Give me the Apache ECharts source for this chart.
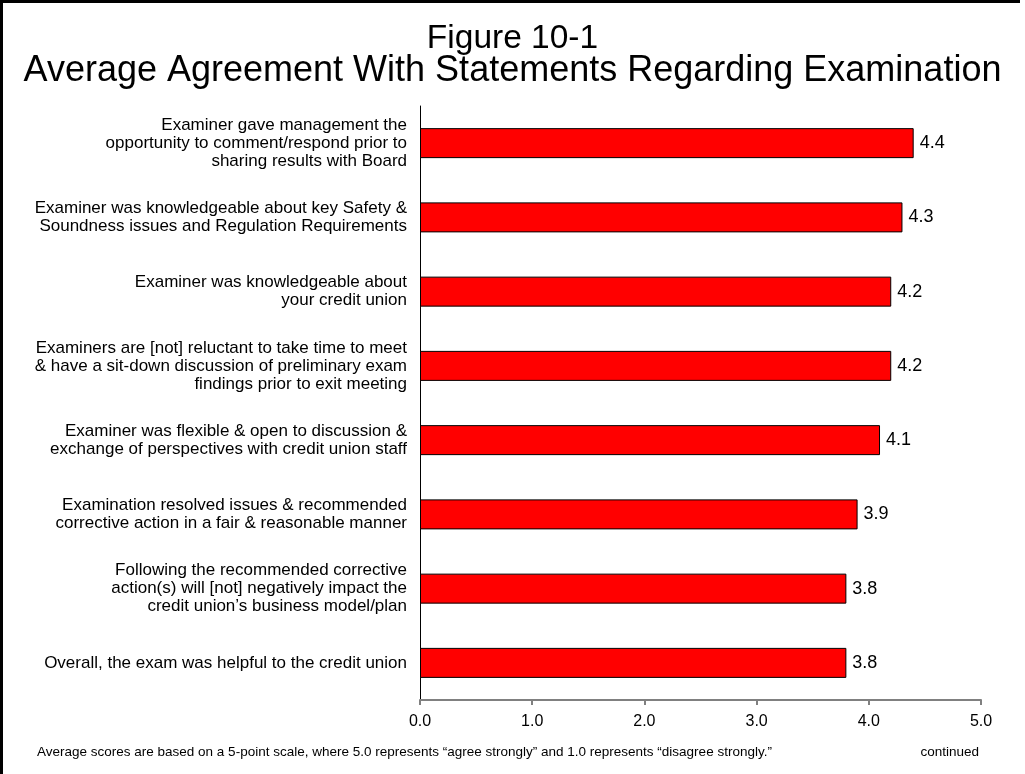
<!DOCTYPE html>
<html>
<head>
<meta charset="utf-8">
<script src="https://cdn.jsdelivr.net/npm/echarts@6/dist/echarts.min.js"></script>
<style>
  html, body { margin: 0; padding: 0; background: #fff; }
  #chart { width: 1025px; height: 774px; }
</style>
</head>
<body>
<div id="chart"></div>
<script>
// Statements, top to bottom
var statements = [
  'Examiner gave management the\nopportunity to comment/respond prior to\nsharing results with Board',
  'Examiner was knowledgeable about key Safety &\nSoundness issues and Regulation Requirements',
  'Examiner was knowledgeable about\nyour credit union',
  'Examiners are [not] reluctant to take time to meet\n& have a sit-down discussion of preliminary exam\nfindings prior to exit meeting',
  'Examiner was flexible & open to discussion &\nexchange of perspectives with credit union staff',
  'Examination resolved issues & recommended\ncorrective action in a fair & reasonable manner',
  'Following the recommended corrective\naction(s) will [not] negatively impact the\ncredit union\u2019s business model/plan',
  'Overall, the exam was helpful to the credit union'
];
// Average agreement score for each statement
var scores = [4.4, 4.3, 4.2, 4.2, 4.1, 3.9, 3.8, 3.8];
// Score axis
var axisMin = 0, axisMax = 5, axisStep = 1;

var titleLine1 = 'Figure 10-1';
var titleLine2 = 'Average Agreement With Statements Regarding Examination';
var footnote = 'Average scores are based on a 5-point scale, where 5.0 represents \u201cagree strongly\u201d and 1.0 represents \u201cdisagree strongly.\u201d';
var continuedText = 'continued';

var FONT = 'Liberation Sans, Arial, sans-serif';
var chart = echarts.init(document.getElementById('chart'), null, { renderer: 'canvas' });

chart.setOption({
  backgroundColor: '#fff',
  animation: false,
  grid: { left: 420, right: 44, top: 106, bottom: 74, containLabel: false },
  xAxis: {
    type: 'value',
    min: axisMin, max: axisMax, interval: axisStep,
    axisLine: { show: true, lineStyle: { color: '#808080', width: 2 } },
    axisTick: { show: true, length: 5, lineStyle: { color: '#808080', width: 2 } },
    axisLabel: {
      color: '#000', fontFamily: FONT, fontSize: 16, margin: 14,
      formatter: function (v) { return v.toFixed(1); }
    },
    splitLine: { show: false }
  },
  yAxis: {
    type: 'category',
    inverse: true,
    data: statements,
    axisLine: { show: true, lineStyle: { color: '#000', width: 1 } },
    axisTick: { show: false },
    axisLabel: {
      color: '#000', fontFamily: FONT, fontSize: 17, lineHeight: 18,
      align: 'right', margin: 13
    }
  },
  series: [{
    type: 'bar',
    data: scores,
    barWidth: 30,
    itemStyle: { color: '#ff0000', borderColor: '#000', borderWidth: 1 },
    label: {
      show: true, position: 'right', distance: 6,
      color: '#000', fontFamily: FONT, fontSize: 18,
      formatter: function (p) { return p.value.toFixed(1); }
    }
  }],
  graphic: [
    // frame lines along the top and left edges
    { type: 'rect', left: 0, top: 0, shape: { width: 1020, height: 3 }, style: { fill: '#000' }, z: 100 },
    { type: 'rect', left: 0, top: 0, shape: { width: 3, height: 774 }, style: { fill: '#000' }, z: 100 },
    { type: 'text', left: 'center', top: 22, z: 60,
      style: { text: titleLine1, font: '33.5px ' + FONT, fill: '#000' } },
    { type: 'text', left: 'center', top: 53, z: 60,
      style: { text: titleLine2, font: '36px ' + FONT, fill: '#000' } },
    { type: 'text', left: 37, top: 745, z: 60,
      style: { text: footnote, font: '13.5px ' + FONT, fill: '#000' } },
    { type: 'text', right: 46, top: 745, z: 60,
      style: { text: continuedText, font: '13.5px ' + FONT, fill: '#000' } }
  ]
});
</script>
</body>
</html>
